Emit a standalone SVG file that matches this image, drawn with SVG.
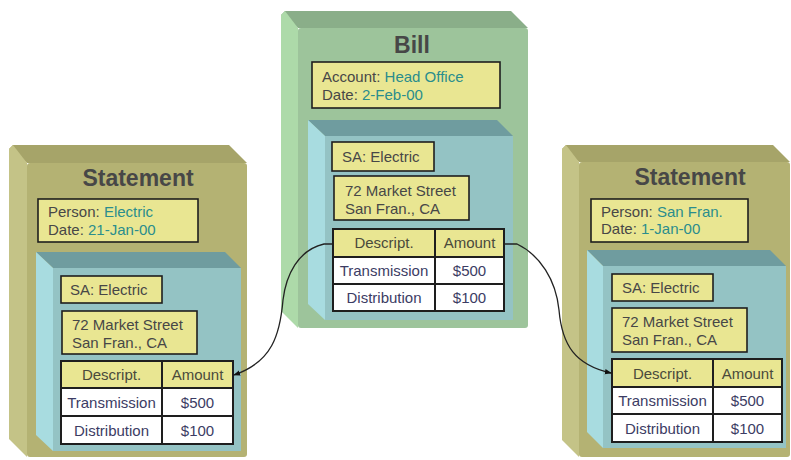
<svg xmlns="http://www.w3.org/2000/svg" width="791" height="460" viewBox="0 0 791 460">
<style>
text{font-family:"Liberation Sans",Arial,sans-serif;}
.title{font-size:23px;font-weight:bold;fill:#474747;text-anchor:middle;}
.lbl{font-size:15px;fill:#474747;}
.val{fill:#2a8d8d;}
.hd{font-size:15px;fill:#4a4a3c;text-anchor:middle;}
.cell{font-size:15px;fill:#3c3c64;text-anchor:middle;}
.box{fill:#e9e692;stroke:#1e1e1e;stroke-width:1.6;}
.row{fill:#ffffff;stroke:#1e1e1e;stroke-width:2;}
.hrow{fill:#e9e692;stroke:#1e1e1e;stroke-width:2;}
.gF{fill:#9dc49b;}.gT{fill:#8aae89;}.gL{fill:#addaa9;}
.oF{fill:#b4b273;}.oT{fill:#a6a469;}.oL{fill:#c4c387;}
.cF{fill:#94c3c4;}.cT{fill:#6f9c9f;}.cL{fill:#a8dce0;}
.conn{fill:none;stroke:#222;stroke-width:1.3;}
</style>
<defs>
<marker id="arr" viewBox="0 0 8 8" refX="7" refY="4" markerWidth="7" markerHeight="7" orient="auto" markerUnits="userSpaceOnUse">
<path d="M0,1 L8,4 L0,7 z" fill="#111"/>
</marker>
</defs>

<!-- Bill -->
<g id="bill">
<rect class="gF" x="298" y="28" width="230" height="300" rx="3"/>
<polygon class="gT" points="285,11 511,11 528,28 298,28 281,15"/>
<polygon class="gL" points="281,15 285,11 298,28 298,328 281,311"/>
<text class="title" x="412" y="53">Bill</text>
<rect class="box" x="312" y="62" width="188" height="46"/>
<text class="lbl" x="322" y="82">Account: <tspan class="val">Head Office</tspan></text>
<text class="lbl" x="322" y="100">Date: <tspan class="val">2-Feb-00</tspan></text>
<g id="bill-sa">
<rect class="cF" x="325" y="136" width="188" height="184"/>
<polygon class="cT" points="308,120 497,120 513,136 325,136"/>
<polygon class="cL" points="308,120 325,136 325,320 308,304"/>
<rect class="box" x="332" y="142" width="102" height="29"/>
<text class="lbl" x="342" y="162">SA: Electric</text>
<rect class="box" x="334" y="176" width="135" height="44"/>
<text class="lbl" x="345" y="196">72 Market Street</text>
<text class="lbl" x="345" y="214">San Fran., CA</text>
<rect class="hrow" x="333" y="229" width="102" height="28"/>
<rect class="hrow" x="435" y="229" width="69" height="28"/>
<rect class="row" x="333" y="257" width="102" height="27"/>
<rect class="row" x="435" y="257" width="69" height="27"/>
<rect class="row" x="333" y="284" width="102" height="27"/>
<rect class="row" x="435" y="284" width="69" height="27"/>
<text class="hd" x="384" y="248">Descript.</text>
<text class="hd" x="469.5" y="248">Amount</text>
<text class="cell" x="384" y="276">Transmission</text>
<text class="cell" x="469.5" y="276">$500</text>
<text class="cell" x="384" y="303">Distribution</text>
<text class="cell" x="469.5" y="303">$100</text>
</g>
</g>

<!-- Left Statement -->
<g id="statement-left">
<rect class="oF" x="27" y="163" width="220" height="294" rx="3"/>
<polygon class="oT" points="13,145 229,145 247,163 27,163 9,149"/>
<polygon class="oL" points="9,149 13,145 27,163 27,457 9,439"/>
<text class="title" x="138" y="186">Statement</text>
<rect class="box" x="38" y="199" width="160" height="43"/>
<text class="lbl" x="48" y="217">Person: <tspan class="val">Electric</tspan></text>
<text class="lbl" x="48" y="235">Date: <tspan class="val">21-Jan-00</tspan></text>
<g id="left-sa">
<rect class="cF" x="53" y="268" width="188" height="183"/>
<polygon class="cT" points="36,252 225,252 241,268 53,268"/>
<polygon class="cL" points="36,252 53,268 53,451 36,435"/>
<rect class="box" x="61" y="276" width="101" height="27"/>
<text class="lbl" x="70" y="295">SA: Electric</text>
<rect class="box" x="62" y="311" width="135" height="43"/>
<text class="lbl" x="72" y="330">72 Market Street</text>
<text class="lbl" x="72" y="348">San Fran., CA</text>
<rect class="hrow" x="61" y="361" width="101" height="27"/>
<rect class="hrow" x="162" y="361" width="71" height="27"/>
<rect class="row" x="61" y="388" width="101" height="28"/>
<rect class="row" x="162" y="388" width="71" height="28"/>
<rect class="row" x="61" y="416" width="101" height="28"/>
<rect class="row" x="162" y="416" width="71" height="28"/>
<text class="hd" x="111.5" y="380">Descript.</text>
<text class="hd" x="197.5" y="380">Amount</text>
<text class="cell" x="111.5" y="408">Transmission</text>
<text class="cell" x="197.5" y="408">$500</text>
<text class="cell" x="111.5" y="436">Distribution</text>
<text class="cell" x="197.5" y="436">$100</text>
</g>
</g>

<!-- Right Statement -->
<g id="statement-right">
<rect class="oF" x="579" y="162" width="211" height="295" rx="3"/>
<polygon class="oT" points="566,145 773,145 790,162 579,162 562,149"/>
<polygon class="oL" points="562,149 566,145 579,162 579,457 562,440"/>
<text class="title" x="690" y="185">Statement</text>
<rect class="box" x="591" y="199" width="157" height="43"/>
<text class="lbl" x="601" y="217">Person: <tspan class="val">San Fran.</tspan></text>
<text class="lbl" x="601" y="234">Date: <tspan class="val">1-Jan-00</tspan></text>
<g id="right-sa">
<rect class="cF" x="603" y="266" width="183" height="182"/>
<polygon class="cT" points="587,250 770,250 786,266 603,266"/>
<polygon class="cL" points="587,250 603,266 603,448 587,432"/>
<rect class="box" x="612" y="274" width="101" height="27"/>
<text class="lbl" x="622" y="293">SA: Electric</text>
<rect class="box" x="612" y="308" width="135" height="44"/>
<text class="lbl" x="622" y="327">72 Market Street</text>
<text class="lbl" x="622" y="345">San Fran., CA</text>
<rect class="hrow" x="612" y="359" width="101" height="28"/>
<rect class="hrow" x="713" y="359" width="69" height="28"/>
<rect class="row" x="612" y="387" width="101" height="27"/>
<rect class="row" x="713" y="387" width="69" height="27"/>
<rect class="row" x="612" y="414" width="101" height="28"/>
<rect class="row" x="713" y="414" width="69" height="28"/>
<text class="hd" x="662.5" y="379">Descript.</text>
<text class="hd" x="747.5" y="379">Amount</text>
<text class="cell" x="662.5" y="406">Transmission</text>
<text class="cell" x="747.5" y="406">$500</text>
<text class="cell" x="662.5" y="434">Distribution</text>
<text class="cell" x="747.5" y="434">$100</text>
</g>
</g>

<!-- Connectors -->
<g id="connectors">
<path class="conn" d="M332,244 L324,244 C298,250 286,275 283,300 C280,335 272,362 234,375" marker-end="url(#arr)"/>
<path class="conn" d="M504,244 L517,244 C540,255 556,280 559,310 C562,345 575,365 611,373" marker-end="url(#arr)"/>
</g>
</svg>
